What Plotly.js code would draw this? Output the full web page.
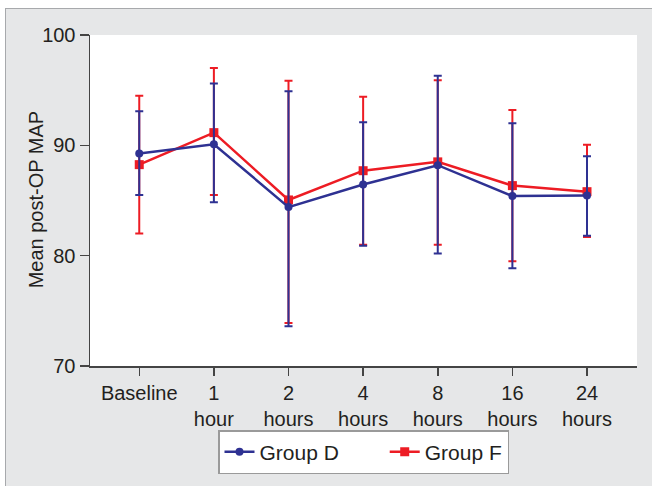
<!DOCTYPE html>
<html>
<head>
<meta charset="utf-8">
<script src="https://cdn.plot.ly/plotly-3.0.1.min.js"></script>
<style>
  html, body { margin: 0; padding: 0; background: #ffffff; width: 652px; height: 486px; overflow: hidden; }
  #chart { position: absolute; left: 5px; top: 8px; width: 647px; height: 478px;
           border-left: 1.5px solid #a7a9ac; border-top: 1.5px solid #a7a9ac; box-sizing: border-box; }
</style>
</head>
<body>
<div id="chart"></div>
<script>
// Categories / tick labels
const categories = ["Baseline", "1 hour", "2 hours", "4 hours", "8 hours", "16 hours", "24 hours"];
const tickLabels = ["Baseline", "1<br>hour", "2<br>hours", "4<br>hours", "8<br>hours", "16<br>hours", "24<br>hours"];
const yTicks = [70, 80, 90, 100];
const yTitle = "Mean post-OP MAP";
const seriesNames = ["Group D", "Group F"];

// Group D (mean, upper and lower ends of error bars)
const groupDMean  = [89.25, 90.1, 84.4, 86.45, 88.2, 85.4, 85.45];
const groupDUpper = [93.1, 95.6, 94.9, 92.1, 96.3, 92.0, 89.0];
const groupDLower = [85.5, 84.85, 73.6, 80.9, 80.2, 78.85, 81.8];

// Group F
const groupFMean  = [88.25, 91.15, 85.05, 87.7, 88.5, 86.35, 85.8];
const groupFUpper = [94.5, 97.0, 95.85, 94.4, 95.9, 93.2, 90.05];
const groupFLower = [82.0, 85.5, 73.9, 81.0, 81.0, 79.5, 81.7];

const blue = "#2e3192";
const red = "#ed1c24";

function errs(mean, upper, lower) {
  return {
    type: "data", symmetric: false,
    array: upper.map((u, i) => u - mean[i]),
    arrayminus: lower.map((l, i) => mean[i] - l)
  };
}

const traceF = {
  x: categories, y: groupFMean, name: seriesNames[1], type: "scatter", mode: "lines+markers",
  line: { color: red, width: 2.5 },
  marker: { color: red, symbol: "square", size: 9 },
  error_y: Object.assign(errs(groupFMean, groupFUpper, groupFLower), { color: red, thickness: 2, width: 4 }),
  legendrank: 2
};
const traceD = {
  x: categories, y: groupDMean,
  name: seriesNames[0] + "\u00a0\u00a0\u00a0\u00a0\u00a0\u00a0\u00a0",
  type: "scatter", mode: "lines+markers",
  line: { color: blue, width: 2.5 },
  marker: { color: blue, symbol: "circle", size: 8 },
  error_y: Object.assign(errs(groupDMean, groupDUpper, groupDLower), { color: blue, thickness: 2, width: 4 }),
  legendrank: 1
};

const fam = "Liberation Sans, Arial, sans-serif";
const font = { family: fam, size: 20, color: "#231f20" };

const layout = {
  width: 647, height: 478,
  margin: { l: 84, r: 16, t: 26, b: 121 },
  paper_bgcolor: "#e6e7e8",
  plot_bgcolor: "#ffffff",
  font: font,
  showlegend: true,
  xaxis: {
    type: "category",
    tickmode: "array", tickvals: categories, ticktext: tickLabels,
    range: [-0.66, 6.67],
    showgrid: false, zeroline: false,
    showline: true, linecolor: "#444", linewidth: 1.5,
    ticks: "outside", ticklen: 8, tickwidth: 1.5, tickcolor: "#444",
    tickfont: font
  },
  yaxis: {
    range: [70, 100],
    tickvals: yTicks,
    showgrid: false, zeroline: false,
    showline: true, linecolor: "#444", linewidth: 1.5,
    ticks: "outside", ticklen: 9, tickwidth: 1.5, tickcolor: "#444",
    tickfont: font
  },
  annotations: [{
    text: yTitle, xref: "paper", yref: "paper", x: -0.099, y: 0.503,
    xanchor: "center", yanchor: "middle", textangle: -90, showarrow: false,
    font: font
  }],
  legend: {
    orientation: "h", x: 0.5, xanchor: "center", y: -0.194, yanchor: "top",
    bgcolor: "#ffffff", bordercolor: "#9a9a9a", borderwidth: 1.5,
    font: { family: fam, size: 21, color: "#231f20" }, traceorder: "normal"
  }
};

Plotly.newPlot("chart", [traceF, traceD], layout, { displayModeBar: false, staticPlot: true });
</script>
</body>
</html>
